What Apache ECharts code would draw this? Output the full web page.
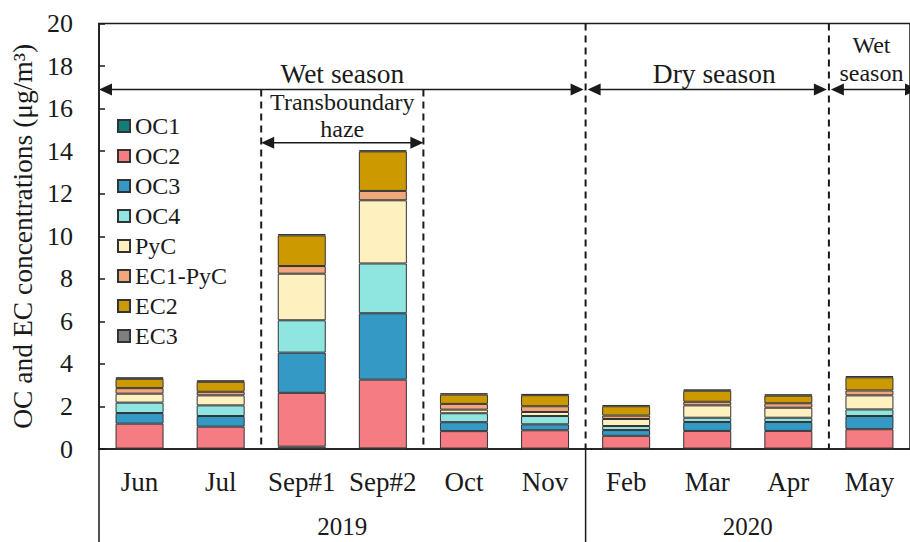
<!DOCTYPE html>
<html>
<head>
<meta charset="utf-8">
<script src="https://cdn.jsdelivr.net/npm/echarts@6/dist/echarts.min.js"></script>
<style>
html,body{margin:0;padding:0;background:#fff;}
#main{width:910px;height:542px;}
</style>
</head>
<body>
<div id="main"></div>
<script>
// ---- data ----
const categories = ['Jun','Jul','Sep#1','Sep#2','Oct','Nov','Feb','Mar','Apr','May'];
const OC1     = [0.02,0.02,0.11,0.03,0.02,0.02,0.02,0.02,0.02,0.02];
const OC2     = [1.17,1.03,2.53,3.23,0.82,0.86,0.60,0.83,0.83,0.91];
const OC3     = [0.50,0.50,1.89,3.12,0.42,0.28,0.27,0.42,0.42,0.62];
const OC4     = [0.49,0.50,1.52,2.34,0.42,0.39,0.19,0.20,0.20,0.31];
const PyC     = [0.42,0.47,2.19,2.97,0.17,0.19,0.33,0.58,0.47,0.66];
const EC1_PyC = [0.26,0.17,0.36,0.44,0.27,0.27,0.16,0.17,0.21,0.23];
const EC2     = [0.44,0.47,1.44,1.86,0.44,0.52,0.44,0.52,0.36,0.62];
const EC3     = [0.07,0.07,0.06,0.05,0.06,0.06,0.06,0.06,0.06,0.06];
const seriesNames = ['OC1','OC2','OC3','OC4','PyC','EC1-PyC','EC2','EC3'];
const yTicks = [0,2,4,6,8,10,12,14,16,18,20];
const years = ['2019','2020'];
const yearSpans = [[0,5],[6,9]];
const seasonLabels = ['Wet season','Dry season','Wet\nseason'];
const seasonSpans = [[0,5],[6,8],[9,9]];
const hazeLabel = 'Transboundary\nhaze';
const hazeSpan = [2,3];
const seasonArrowLevel = 16.9;
const hazeArrowLevel = 14.4;

const colors = ['#127d78','#f47c82','#3499c5','#8fe5e0','#fff0c0','#f1a67b','#cc9a00','#7f7f7f'];
const FONT = '"Liberation Serif","Times New Roman",serif';
const TXT = '#1a1a1a';

const chart = echarts.init(document.getElementById('main'), null, {renderer:'svg'});
const dataArr = [OC1,OC2,OC3,OC4,PyC,EC1_PyC,EC2,EC3];

const option = {
  animation:false,
  backgroundColor:'#fff',
  grid:{left:99, top:23.5, width:820, height:425.5, show:true, borderColor:'#1a1a1a', borderWidth:1.5, containLabel:false},
  legend:{
    orient:'vertical', left:117, top:114, itemWidth:12, itemHeight:12, itemGap:6, padding:0,
    icon:'rect',
    textStyle:{fontFamily:FONT, fontSize:24, color:TXT, lineHeight:23},
    data:seriesNames
  },
  xAxis:{
    type:'category', data:categories,
    axisLine:{lineStyle:{color:'#1a1a1a', width:1.5}},
    axisTick:{show:false},
    axisLabel:{fontFamily:FONT, fontSize:27, color:TXT, margin:19, interval:0},
    splitLine:{show:false}
  },
  yAxis:{
    type:'value', min:0, max:20, interval:2,
    name:'OC and EC concentrations (μg/m³)', nameLocation:'middle', nameRotate:90, nameGap:62,
    nameTextStyle:{fontFamily:FONT, fontSize:27.5, color:TXT},
    axisLine:{show:true, lineStyle:{color:'#1a1a1a', width:1.5}},
    axisTick:{show:true, inside:true, length:6, lineStyle:{color:'#1a1a1a', width:1.5}},
    axisLabel:{fontFamily:FONT, fontSize:26, color:TXT, margin:26,
      formatter:function(v){return yTicks.indexOf(v)>=0?String(v):'';}},
    splitLine:{show:false}
  },
  series: seriesNames.map((n,i)=>({
    name:n, type:'bar', stack:'total', barWidth:48, data:dataArr[i],
    itemStyle:{color:colors[i], borderColor:'#333', borderWidth:1}
  }))
};
chart.setOption(option);

function xc(i){ return chart.convertToPixel({xAxisIndex:0}, i); }
const band = xc(1)-xc(0);
function bLeft(i){ return xc(i)-band/2; }
function bRight(i){ return xc(i)+band/2; }
function yv(v){ return chart.convertToPixel({yAxisIndex:0}, v); }
const y0 = yv(0), yTop = yv(20);
const W = 910, H = 542;

const g = [];
const black = '#1a1a1a';
function vline(x,y1,y2,dash){
  g.push({type:'line', shape:{x1:x,y1:y1,x2:x,y2:y2}, style:{stroke:black, lineWidth:dash?2:1.5, lineDash:dash?[7,5]:null}, z:10});
}
function arrow(x1,x2,y){
  const L=13, h=6;
  g.push({type:'line', shape:{x1:x1+L-1,y1:y,x2:x2-L+1,y2:y}, style:{stroke:black, lineWidth:1.5}, z:10});
  g.push({type:'polygon', shape:{points:[[x1,y],[x1+L,y-h],[x1+L,y+h]]}, style:{fill:black}, z:10});
  g.push({type:'polygon', shape:{points:[[x2,y],[x2-L,y-h],[x2-L,y+h]]}, style:{fill:black}, z:10});
}
function text(str,x,y,size,lh){
  g.push({type:'text', x:x, y:y, style:{text:str, fontFamily:FONT, fontSize:size, fill:TXT, align:'center', verticalAlign:'middle', lineHeight:lh||size}, z:10});
}

// season dividers
const sArrowY = yv(seasonArrowLevel);
const hArrowY = yv(hazeArrowLevel);
const div1 = bRight(seasonSpans[0][1]);   // wet|dry
const div2 = bRight(seasonSpans[1][1]);   // dry|wet
vline(div1, yTop, y0, true);
vline(div2, yTop, y0, true);
const hz1 = bLeft(hazeSpan[0]), hz2 = bRight(hazeSpan[1]);
vline(hz1, sArrowY, y0, true);
vline(hz2, sArrowY, y0, true);

// below axis lines
vline(bLeft(0), y0, H, false);
vline(bRight(yearSpans[0][1]), y0, H, false);

// arrows
arrow(bLeft(0), div1-2, sArrowY);
arrow(div1+2, div2-2, sArrowY);
arrow(div2+2, W+8, sArrowY);
arrow(hz1, hz2, hArrowY);

// season texts
text(seasonLabels[0], (bLeft(0)+div1)/2, sArrowY-16, 27.5);
text(seasonLabels[1], (div1+div2)/2+7, sArrowY-16, 27.5);
text(seasonLabels[2], xc(9)+2, sArrowY-30, 24, 28);
text(hazeLabel, (hz1+hz2)/2, hArrowY-27, 24, 27);

// years
text(years[0], (bLeft(yearSpans[0][0])+bRight(yearSpans[0][1]))/2, 526, 25);
text(years[1], (bLeft(yearSpans[1][0])+W)/2, 526, 25);

chart.setOption({graphic:g});
</script>
</body>
</html>
